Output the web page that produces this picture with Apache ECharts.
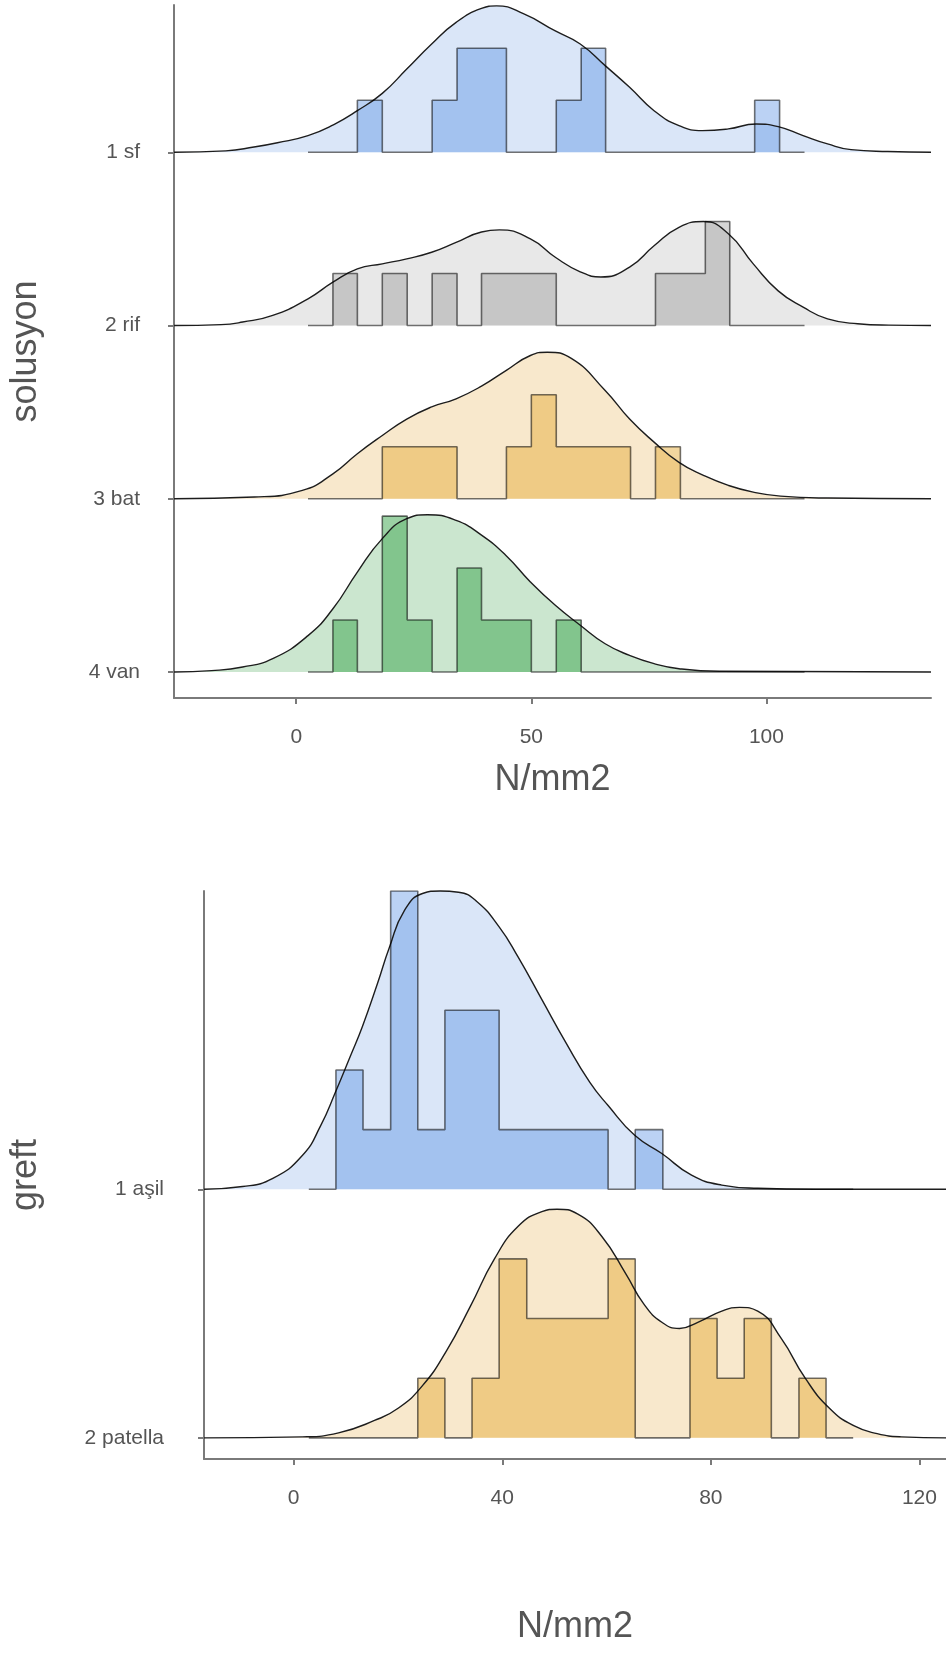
<!DOCTYPE html>
<html>
<head>
<meta charset="utf-8">
<script src="https://cdn.jsdelivr.net/npm/echarts@6/dist/echarts.min.js"></script>
<style>
  html, body { margin: 0; padding: 0; background: #fff; }
  #chart { width: 946px; height: 1657px; }
</style>
</head>
<body>
<div id="chart"></div>
<script>
// tick labels
var xTicksTop = [0, 50, 100];
var xTicksBottom = [0, 40, 80, 120];
var solusyonNames = ['1 sf', '2 rif', '3 bat', '4 van'];
var greftNames = ['1 aşil', '2 patella'];

// histogram bin edges (N/mm2)
var edgesTop = [2.5, 7.8, 13.0, 18.3, 23.6, 28.9, 34.2, 39.4, 44.7, 50.0, 55.3,
  60.6, 65.8, 71.1, 76.4, 81.7, 87.0, 92.2, 97.5, 102.8, 108.1];
var edgesBottom = [2.9, 8.1, 13.3, 18.6, 23.8, 29.0, 34.2, 39.4, 44.7, 49.9, 55.1,
  60.3, 65.5, 70.8, 76.0, 81.2, 86.4, 91.6, 96.9, 102.1, 107.3];

// histogram counts per bin
var sfCounts = [0,0,1,0,0,1,2,2,0,0,1,2,0,0,0,0,0,0,1,0];
var rifCounts = [0,1,0,1,0,1,0,1,1,1,0,0,0,0,1,1,2,0,0,0];
var batCounts = [0,0,0,1,1,1,0,0,1,2,1,1,1,0,1,0,0,0,0,0];
var vanCounts = [0,1,0,3,1,0,2,1,1,0,1,0,0,0,0,0,0,0,0,0];
var asilCounts = [0,2,1,5,1,3,3,1,1,1,1,0,1,0,0,0,0,0,0,0];
var patellaCounts = [0,0,0,0,1,0,1,3,2,2,2,3,0,0,2,1,2,0,1,0];

// density curves: x and height (in ridge spacings)
var sfDensX = [-26,-15,-9,-4,2.5,8,13,18.3,23.5,28.8,34,39.4,42.6,48.3,55.1,60.4,65.7,70.9,76.1,81.4,86.4,91.9,97.8,102.5,107.8,113,118,125.8,135];
var sfDensH = [0,0.008,0.03,0.055,0.096,0.16,0.24,0.34,0.48,0.625,0.75,0.83,0.845,0.80,0.70,0.625,0.50,0.375,0.24,0.154,0.125,0.135,0.163,0.148,0.096,0.048,0.015,0.004,0];
var rifDensX = [-26,-16,-11.4,-5,2.5,7.8,13,18.3,23.5,28.8,34,39.4,43.2,49.8,55.1,60.4,64.8,70.9,76.1,81.4,86.6,91.9,97.2,102.5,107.8,113,119.4,126,135];
var rifDensH = [0,0.005,0.02,0.058,0.154,0.25,0.327,0.356,0.385,0.423,0.48,0.54,0.552,0.50,0.394,0.31,0.28,0.337,0.46,0.567,0.60,0.53,0.356,0.20,0.106,0.038,0.01,0.002,0];
var batDensX = [-26,-8.9,1.3,7.8,13,18.3,23.5,28.8,34,39.4,44.6,49.8,53.4,58.5,65.7,70.9,76.1,81.4,86.6,91.9,97.2,103,113,135];
var batDensH = [0,0.01,0.048,0.144,0.26,0.365,0.46,0.53,0.577,0.65,0.74,0.827,0.846,0.81,0.625,0.46,0.327,0.21,0.135,0.077,0.038,0.015,0.004,0];
var vanDensX = [-26,-18,-11.4,-5,2.5,7.8,13,18.3,23.5,27.9,34,39.4,44.6,49.8,55.1,60.4,65.7,70.9,76.1,81.4,90,135];
var vanDensH = [0,0.008,0.029,0.077,0.21,0.365,0.577,0.77,0.885,0.908,0.875,0.79,0.673,0.52,0.385,0.27,0.163,0.096,0.048,0.019,0.004,0];
var asilDensX = [-17.2,-9.8,-4,1.7,5.2,8.0,10.9,13.2,16.1,18.4,21.2,24.7,28.1,31.6,35,39.4,43,47.6,52.2,56.8,60.3,65.4,70.6,76.3,82.1,89,100,125.1];
var asilDensH = [0,0.011,0.044,0.137,0.257,0.39,0.537,0.656,0.83,0.976,1.12,1.19,1.20,1.195,1.16,1.056,0.936,0.763,0.59,0.43,0.337,0.217,0.144,0.057,0.017,0.004,0,0];
var patellaDensX = [-17.2,1.7,8.6,15.5,20.1,24.7,29.3,33.9,38.5,43,47.6,50.5,54.5,59.1,63.7,67.1,70.6,74,77.5,82.1,85.5,89,93.5,98.1,102.7,107.3,111.9,116.5,125.1];
var patellaDensH = [0,0.004,0.02,0.07,0.12,0.21,0.35,0.53,0.72,0.85,0.91,0.92,0.90,0.81,0.66,0.54,0.465,0.44,0.465,0.51,0.525,0.51,0.40,0.24,0.12,0.05,0.017,0.004,0];

var densLine = '#1d1d1d';
var histLine = 'rgba(0,0,0,0.55)';
var axisColor = '#7a7a7a';
var textColor = '#555';
var font = 'Liberation Sans';

function ridge(xi, base, edges, counts, perCount, densX, densH, fill, histFill) {
  var dens = densX.map(function (x, k) { return [x, base + densH[k]]; });
  var hist = edges.map(function (e, k) {
    return [e, base + counts[Math.min(k, counts.length - 1)] * perCount];
  });
  return [{
    type: 'line', xAxisIndex: xi, yAxisIndex: xi,
    data: dens, smooth: 0.5, symbol: 'none', clip: false,
    lineStyle: { color: densLine, width: 1.4 },
    areaStyle: { color: fill, opacity: 1, origin: base }
  }, {
    type: 'line', xAxisIndex: xi, yAxisIndex: xi,
    data: hist, step: 'end', symbol: 'none',
    lineStyle: { color: histLine, width: 1.6 },
    areaStyle: { color: histFill, opacity: 1, origin: base }
  }];
}

function xAxis(gi, min, max, ticks, gap) {
  return {
    type: 'value', gridIndex: gi, min: min, max: max,
    name: 'N/mm2', nameLocation: 'middle', nameGap: gap,
    nameTextStyle: { fontSize: 36, color: textColor, fontFamily: font },
    splitLine: { show: false },
    axisLine: { onZero: false, lineStyle: { color: axisColor, width: 2 } },
    axisTick: { customValues: ticks, length: 6, lineStyle: { color: axisColor, width: 2 } },
    axisLabel: { customValues: ticks, margin: 29, fontSize: 21, color: textColor, fontFamily: font }
  };
}

function yAxis(gi, min, max, names, axisName, gap, labelMargin) {
  var vals = names.map(function (n, i) { return names.length - 1 - i; });
  return {
    type: 'value', gridIndex: gi, min: min, max: max,
    name: axisName, nameLocation: 'middle', nameGap: gap,
    nameTextStyle: { fontSize: 36, color: textColor, fontFamily: font },
    splitLine: { show: false },
    axisLine: { onZero: false, lineStyle: { color: axisColor, width: 2 } },
    axisTick: { customValues: vals, length: 6, lineStyle: { color: axisColor, width: 2 } },
    axisLabel: {
      customValues: vals, margin: labelMargin, fontSize: 21, color: textColor, fontFamily: font,
      formatter: function (v) { return names[names.length - 1 - Math.round(v)]; }
    }
  };
}

var topScale = 0.3, bottomScale = 0.24;
var series = [].concat(
  ridge(0, 3, edgesTop, sfCounts, topScale, sfDensX, sfDensH, '#dae6f8', 'rgba(61,125,224,0.35)'),
  ridge(0, 2, edgesTop, rifCounts, topScale, rifDensX, rifDensH, '#e8e8e8', 'rgba(140,140,140,0.37)'),
  ridge(0, 1, edgesTop, batCounts, topScale, batDensX, batDensH, '#f8e8cc', 'rgba(230,173,62,0.5)'),
  ridge(0, 0, edgesTop, vanCounts, topScale, vanDensX, vanDensH, '#cbe6cf', 'rgba(63,166,80,0.52)'),
  ridge(1, 1, edgesBottom, asilCounts, bottomScale, asilDensX, asilDensH, '#dae6f8', 'rgba(61,125,224,0.35)'),
  ridge(1, 0, edgesBottom, patellaCounts, bottomScale, patellaDensX, patellaDensH, '#f8e8cc', 'rgba(230,173,62,0.5)')
);

var option = {
  animation: false,
  backgroundColor: '#fff',
  grid: [
    { left: 173, right: 15, top: 5, bottom: 959 },
    { left: 201, right: 0, top: 891, bottom: 198 }
  ],
  xAxis: [xAxis(0, -26, 135, xTicksTop, 64), xAxis(1, -17.2, 125.1, xTicksBottom, 150)],
  yAxis: [
    yAxis(0, -0.15, 3.85, solusyonNames, 'solusyon', 130, 34),
    yAxis(1, -0.085, 2.2, greftNames, 'greft', 160, 40)
  ],
  series: series
};

echarts.init(document.getElementById('chart')).setOption(option);
</script>
</body>
</html>
